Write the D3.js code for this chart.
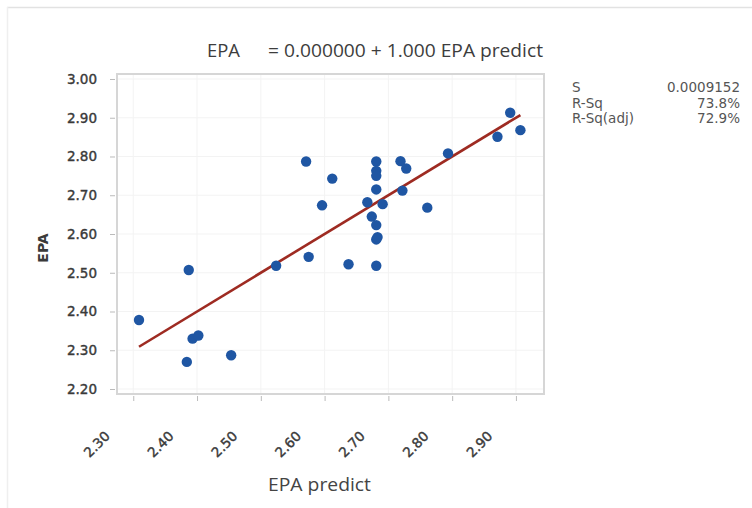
<!DOCTYPE html>
<html>
<head>
<meta charset="utf-8">
<script src="https://cdn.jsdelivr.net/npm/d3@7"></script>
<style>
  html, body { margin: 0; padding: 0; background: #fff; }
  svg { display: block; }
</style>
</head>
<body>
<svg id="chart" width="752" height="508"></svg>
<script>
// Observed vs predicted EPA values
const epaPredict = [2.309, 2.387, 2.384, 2.393, 2.402, 2.4535, 2.524, 2.575, 2.571, 2.612,
  2.596, 2.681, 2.681, 2.681, 2.681, 2.667, 2.691, 2.674, 2.681, 2.681,
  2.683, 2.6375, 2.681, 2.719, 2.728, 2.722, 2.761, 2.7935, 2.871, 2.891, 2.907];
const epa = [2.378, 2.507, 2.270, 2.330, 2.338, 2.287, 2.518, 2.541, 2.787, 2.743,
  2.674, 2.787, 2.763, 2.750, 2.715, 2.682, 2.677, 2.645, 2.623, 2.586,
  2.592, 2.522, 2.518, 2.788, 2.769, 2.712, 2.668, 2.808, 2.851, 2.913, 2.868];

// Fitted line: EPA = b0 + b1 * EPA predict
const intercept = 0.0;
const slope = 1.0;

const xTicks = [2.30, 2.40, 2.50, 2.60, 2.70, 2.80, 2.90];
const yTicks = [2.20, 2.30, 2.40, 2.50, 2.60, 2.70, 2.80, 2.90, 3.00];

const statLabels = ["S", "R-Sq", "R-Sq(adj)"];
const statValues = ["0.0009152", "73.8%", "72.9%"];

const titleLeft = "EPA";
const titleRight = "= 0.000000 + 1.000 EPA predict";
const xTitle = "EPA predict";
const yTitle = "EPA";

const svg = d3.select("#chart");
const font = "'Open Sans', 'Noto Sans', sans-serif";
const tickFont = "'DejaVu Sans', Verdana, sans-serif";

// outer panel edges
svg.append("line").attr("x1", 7).attr("x2", 752).attr("y1", 7.5).attr("y2", 7.5)
  .attr("stroke", "#e2e2e2").attr("stroke-width", 1.5);
svg.append("line").attr("x1", 7.5).attr("x2", 7.5).attr("y1", 7).attr("y2", 508)
  .attr("stroke", "#efefef").attr("stroke-width", 1.5);

const plot = { left: 117, right: 544, top: 74, bottom: 394 };

const x = d3.scaleLinear().domain([2.2745, 2.944]).range([plot.left, plot.right]);
const y = d3.scaleLinear().domain([2.1871, 3.0129]).range([plot.bottom, plot.top]);

// grid
const grid = svg.append("g");
grid.selectAll(".gx").data(xTicks).join("line")
  .attr("x1", d => x(d)).attr("x2", d => x(d))
  .attr("y1", plot.top).attr("y2", plot.bottom)
  .attr("stroke", "#f3f3f3").attr("stroke-width", 1);
grid.selectAll(".gy").data(yTicks).join("line")
  .attr("x1", plot.left).attr("x2", plot.right)
  .attr("y1", d => y(d)).attr("y2", d => y(d))
  .attr("stroke", "#f3f3f3").attr("stroke-width", 1);

// frame
svg.append("rect")
  .attr("x", plot.left).attr("y", plot.top)
  .attr("width", plot.right - plot.left).attr("height", plot.bottom - plot.top)
  .attr("fill", "none").attr("stroke", "#d6d6d6").attr("stroke-width", 2);

// tick label styling shared by both axes
function styleTicks(sel) {
  sel.attr("font-family", tickFont).attr("font-size", 13.5)
    .attr("fill", "#3a3a3a").attr("stroke", "#3a3a3a").attr("stroke-width", 0.4);
}

// axes
const yAxis = svg.append("g")
  .attr("transform", `translate(${plot.left - 2},0)`)
  .call(d3.axisLeft(y).tickValues(yTicks).tickFormat(d3.format(".2f")).tickSize(5).tickPadding(13));
yAxis.select(".domain").remove();
yAxis.selectAll(".tick line").attr("stroke", "#bbb");
styleTicks(yAxis.selectAll(".tick text"));

const xAxis = svg.append("g")
  .attr("transform", `translate(0,${plot.bottom + 2})`)
  .call(d3.axisBottom(x).tickValues(xTicks).tickFormat(d3.format(".2f")).tickSize(5));
xAxis.select(".domain").remove();
xAxis.selectAll(".tick line").attr("stroke", "#bbb");
styleTicks(xAxis.selectAll(".tick text"));
xAxis.selectAll(".tick text")
  .attr("text-anchor", "end")
  .attr("dy", null)
  .attr("y", null)
  .attr("transform", "translate(-23,41) rotate(-45)");

// fitted line across the observed range
const xr = d3.extent(epaPredict);
const fit = xr.map(v => [v, intercept + slope * v]);
svg.append("path")
  .attr("d", d3.line().x(d => x(d[0])).y(d => y(d[1]))(fit))
  .attr("stroke", "#9e2b22").attr("stroke-width", 2.6).attr("fill", "none");

// points
svg.append("g").selectAll("circle").data(d3.zip(epaPredict, epa)).join("circle")
  .attr("cx", d => x(d[0])).attr("cy", d => y(d[1])).attr("r", 5.2)
  .attr("fill", "#1f56a3");

// title
svg.append("text").attr("x", 207).attr("y", 57)
  .attr("font-family", font).attr("font-size", 19).attr("fill", "#3d3d3d")
  .attr("textLength", 33).attr("lengthAdjust", "spacingAndGlyphs")
  .text(titleLeft);
svg.append("text").attr("x", 268).attr("y", 57)
  .attr("font-family", font).attr("font-size", 19).attr("fill", "#3d3d3d")
  .attr("textLength", 275).attr("lengthAdjust", "spacingAndGlyphs")
  .text(titleRight);

// regression summary
const stats = svg.append("g")
  .attr("font-family", tickFont).attr("font-size", 13.5).attr("fill", "#555");
stats.selectAll(".sl").data(statLabels).join("text")
  .attr("x", 572).attr("y", (d, i) => 92 + i * 15.5).text(d => d);
stats.selectAll(".sv").data(statValues).join("text")
  .attr("x", 740).attr("y", (d, i) => 92 + i * 15.5)
  .attr("text-anchor", "end").text(d => d);

// axis titles
svg.append("text").attr("x", 268).attr("y", 491)
  .attr("font-family", font).attr("font-size", 19).attr("fill", "#444")
  .attr("textLength", 103).attr("lengthAdjust", "spacingAndGlyphs")
  .text(xTitle);
svg.append("text")
  .attr("transform", "translate(48,248) rotate(-90)")
  .attr("text-anchor", "middle")
  .attr("font-family", tickFont).attr("font-size", 14).attr("font-weight", 700).attr("fill", "#3a3a3a")
  .text(yTitle);
</script>
</body>
</html>
